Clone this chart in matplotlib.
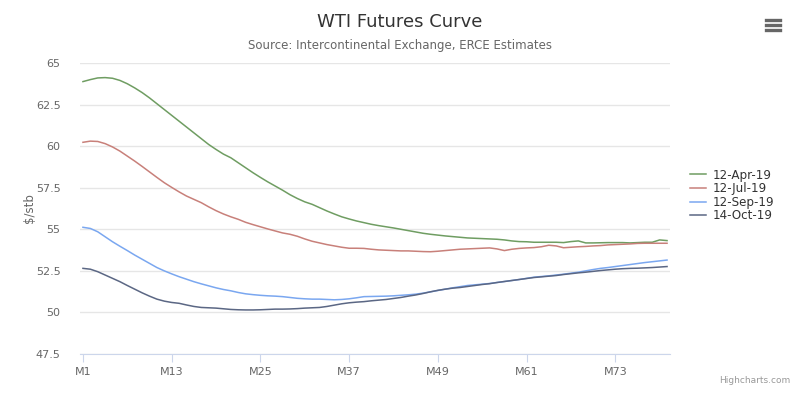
import numpy as np
import matplotlib
matplotlib.use("Agg")
import matplotlib.pyplot as plt
from matplotlib.lines import Line2D

months = ["M%d" % i for i in range(1, 81)]

apr19 = [63.88, 64.0, 64.1, 64.12, 64.08, 63.95, 63.75, 63.5, 63.22, 62.9,
         62.55, 62.2, 61.85, 61.5, 61.15, 60.8, 60.45, 60.1, 59.8, 59.52,
         59.3, 59.0, 58.7, 58.4, 58.12, 57.85, 57.6, 57.35, 57.08, 56.85,
         56.65, 56.5, 56.3, 56.1, 55.92, 55.75, 55.62, 55.5, 55.4, 55.3,
         55.22, 55.15, 55.08, 55.0, 54.92, 54.84, 54.76, 54.7, 54.65, 54.6,
         54.56, 54.52, 54.48, 54.46, 54.44, 54.42, 54.4, 54.36, 54.3, 54.26,
         54.25, 54.22, 54.22, 54.22, 54.22, 54.2, 54.26, 54.3, 54.18, 54.18,
         54.19, 54.2, 54.2, 54.2, 54.18, 54.2, 54.22, 54.22, 54.36, 54.32]

jul19 = [60.23, 60.3, 60.28, 60.15, 59.95, 59.7, 59.4, 59.1, 58.78, 58.45,
         58.12, 57.8, 57.52, 57.25, 57.0, 56.8, 56.6, 56.35, 56.12, 55.92,
         55.75, 55.6, 55.42, 55.28, 55.15, 55.02, 54.9, 54.78, 54.7, 54.58,
         54.42, 54.28, 54.18, 54.08, 54.0, 53.92, 53.86, 53.86, 53.85, 53.8,
         53.76, 53.74, 53.72, 53.7, 53.7, 53.68, 53.66, 53.65, 53.68, 53.72,
         53.76, 53.8, 53.82, 53.84, 53.86, 53.88, 53.82, 53.72, 53.8, 53.85,
         53.88, 53.9, 53.95, 54.04, 54.0, 53.89, 53.92, 53.95, 53.97, 54.0,
         54.02, 54.06, 54.08, 54.1, 54.12, 54.15, 54.16, 54.16, 54.16, 54.16]

sep19 = [55.12, 55.05, 54.85, 54.55, 54.25, 53.98, 53.72, 53.45, 53.2, 52.95,
         52.7, 52.5, 52.32, 52.15, 52.0, 51.85, 51.72, 51.6, 51.48, 51.38,
         51.3, 51.2, 51.12, 51.07, 51.03, 51.0, 50.98, 50.95, 50.9, 50.85,
         50.82, 50.8, 50.8, 50.78, 50.76, 50.78, 50.82, 50.88, 50.95, 50.96,
         50.97, 50.98, 51.0, 51.03, 51.06, 51.1, 51.16, 51.24, 51.32, 51.4,
         51.48, 51.55, 51.62, 51.66, 51.7, 51.74, 51.8, 51.86, 51.92, 51.98,
         52.05, 52.12, 52.16, 52.2, 52.25, 52.3, 52.36, 52.42, 52.5, 52.58,
         52.65, 52.7, 52.76, 52.82, 52.88, 52.94, 53.0, 53.05, 53.1, 53.15]

oct19 = [52.65, 52.6, 52.45, 52.25, 52.05, 51.85, 51.62, 51.4, 51.18, 50.98,
         50.8, 50.68, 50.6, 50.55, 50.45, 50.36, 50.3, 50.28, 50.26, 50.22,
         50.18, 50.16, 50.15, 50.15, 50.16, 50.18, 50.2, 50.2, 50.21, 50.23,
         50.26, 50.28, 50.3, 50.36, 50.44, 50.52, 50.58, 50.62, 50.65, 50.7,
         50.74, 50.78, 50.84, 50.9, 50.98, 51.05, 51.14, 51.24, 51.33, 51.4,
         51.46, 51.5, 51.56, 51.62, 51.68, 51.73, 51.8, 51.86, 51.92, 51.98,
         52.04, 52.1, 52.14, 52.18, 52.22, 52.28, 52.33, 52.38, 52.42, 52.47,
         52.52, 52.56, 52.6, 52.63, 52.65, 52.66, 52.68, 52.7, 52.73, 52.76]

labels = ["12-Apr-19", "12-Jul-19", "12-Sep-19", "14-Oct-19"]
colors = ["#6f9d62", "#c8807a", "#7aa7f0", "#5b6784"]
y_ticks = [47.5, 50, 52.5, 55, 57.5, 60, 62.5, 65]

plt.rcParams['font.family'] = ['DejaVu Sans']

fig = plt.figure(figsize=(8, 3.96), dpi=100)
ax = fig.add_axes([0.1, 0.106, 0.7375, 0.735])

x = np.arange(1, len(months) + 1)
for series, lab, col in zip([apr19, jul19, sep19, oct19], labels, colors):
    ax.plot(x, series, color=col, lw=1.1, label=lab)

ax.set_ylim(47.5, 65)
ax.set_xlim(0.6, 80.4)
ax.set_yticks(y_ticks)
ax.set_yticklabels(["47.5", "50", "52.5", "55", "57.5", "60", "62.5", "65"])
ax.set_xticks(x[::12])
ax.set_xticklabels(months[::12])
ax.grid(axis='y', color='#e6e6e6', lw=1)
ax.set_axisbelow(True)
for s in ['top', 'right', 'left']:
    ax.spines[s].set_visible(False)
ax.spines['bottom'].set_color('#ccd6eb')
ax.tick_params(axis='y', length=0, labelsize=8, labelcolor='#666666', pad=14)
ax.tick_params(axis='x', length=6, color='#ccd6eb', labelsize=8,
               labelcolor='#666666', pad=3)
ax.set_ylabel("$/stb", fontsize=8.5, color='#666666', labelpad=0)

fig.text(0.5, 0.945, "WTI Futures Curve", ha='center', va='center',
         fontsize=13, color='#333333')
fig.text(0.5, 0.886, "Source: Intercontinental Exchange, ERCE Estimates",
         ha='center', va='center', fontsize=8.5, color='#666666')

ax.legend(loc='center left', bbox_to_anchor=(1.015, 0.545), frameon=False,
          fontsize=8.6, handlelength=1.4, handletextpad=0.5,
          labelspacing=0.05, labelcolor='#333333')

# menu icon
for yy in [0.925, 0.937, 0.949]:
    fig.add_artist(Line2D([0.957, 0.975], [yy, yy], color='#666666', lw=2.4))

fig.text(0.988, 0.04, "Highcharts.com", ha='right', va='center',
         fontsize=6.5, color='#999999')

fig.savefig("out.png", dpi=100)
